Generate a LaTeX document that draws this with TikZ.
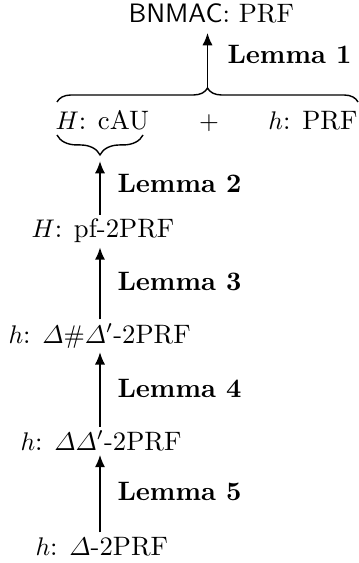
\documentclass[tikz,border=0pt]{standalone}
\usepackage{amsmath}
\usetikzlibrary{arrows.meta,decorations.pathreplacing}
\begin{document}
\begin{tikzpicture}[x=0.3922pt,y=-0.3922pt,font=\fontsize{10.45}{12.5}\selectfont,
  txt/.style={inner xsep=0pt,inner ysep=1.5pt,anchor=base west},
  lem/.style={inner sep=0pt,anchor=base west,font=\fontsize{10.45}{12.5}\selectfont\bfseries},
  arr/.style={line width=0.6pt,-{Latex[length=4.8pt,width=4pt]}},
  brc/.style={line width=0.55pt,decorate,decoration={brace,amplitude=#1}}]
\useasboundingbox (0,0) rectangle (359,563);
\coordinate (ax) at (100,0);
% nodes
\node[txt] (top) at (128,23) {\textsf{BNMAC}: PRF};
\node[lem] (l1) at (227,64) {Lemma 1};
\node[txt] (cau) at (55,130) {$H$: cAU};
\node[txt,anchor=base] (plus) at (209,130) {$+$};
\node[txt,anchor=base east] (prf) at (358,130) {$h$: PRF};
\node[lem] (l2) at (117,193) {Lemma 2};
\node[txt] (pf) at (31,238) {$H$: pf-2PRF};
\node[lem] (l3) at (117,290) {Lemma 3};
\node[txt] (d1) at (8,343) {$h$: $\varDelta\#\varDelta'$-2PRF};
\node[lem] (l4) at (117,397) {Lemma 4};
\node[txt] (d2) at (20,450) {$h$: $\varDelta\varDelta'$-2PRF};
\node[lem] (l5) at (117,500) {Lemma 5};
\node[txt] (d3) at (35,555) {$h$: $\varDelta$-2PRF};
% braces
\draw[brc=5.5pt] (57,102) -- (358,102);
\coordinate (bigtip) at (207.5,88);
\draw[brc=7.8pt] (143,135) -- (57,135);
\coordinate (smalltip) at (100,155);
% arrows
\draw[arr,shorten >=2pt] (bigtip) -- (top.south -| bigtip);
\draw[arr,shorten >=2.4pt] (pf.north -| ax) -- (smalltip);
\draw[arr] (d1.north -| ax) -- (pf.south -| ax);
\draw[arr] (d2.north -| ax) -- (d1.south -| ax);
\draw[arr] (d3.north -| ax) -- (d2.south -| ax);
\end{tikzpicture}
\end{document}
